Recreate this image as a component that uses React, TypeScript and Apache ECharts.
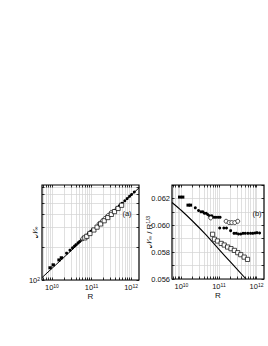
import React, { useEffect, useRef } from "react";
import * as echarts from "echarts";

// ---- data (R values, N/R^(1/3) for panel b, N for panel a) ----
const sqR = [9.02e9, 1.081e10, 1.514e10, 1.738e10];
const sqB = [0.0621, 0.0621, 0.0615, 0.0615];
const sqA = [129.2, 137.4, 152.2, 159.3];

const dotR = [
  2.344e10, 2.858e10, 3.311e10, 3.715e10, 4.074e10, 4.571e10, 5.012e10, 5.623e10,
  6.457e10, 7.413e10, 8.318e10, 9.55e10, 1.072e11,
  1.047e11, 1.349e11, 1.585e11, 2.042e11, 2.512e11, 2.884e11, 3.311e11, 3.802e11,
  4.365e11, 5.012e11, 5.888e11, 6.918e11, 7.943e11, 9.12e11, 1.023e12, 1.202e12,
];
const dotB = [
  0.0613, 0.0611, 0.061, 0.061, 0.0609, 0.0609, 0.0608, 0.0607,
  0.0607, 0.0606, 0.0606, 0.0606, 0.0606,
  0.0598, 0.0598, 0.0598, 0.0596, 0.0594, 0.0594, 0.05935, 0.05935,
  0.0594, 0.0594, 0.0594, 0.0594, 0.0594, 0.05943, 0.05945, 0.05942,
];
const dotA = [
  175.4, 186.8, 195.9, 203.6, 209.6, 217.7, 224.2, 232.5,
  243.5, 254.6, 264.5, 277.0, 287.9,
  281.9, 306.7, 323.6, 350.9, 374.8, 392.5, 410.6, 429.9,
  450.6, 471.8, 497.9, 525.4, 550.1, 576.4, 599.1, 631.9,
];

const ocR = [6.026e10, 1.549e11, 1.862e11, 2.188e11, 2.63e11, 3.162e11];
const ocB = [0.06055, 0.0603, 0.0602, 0.0602, 0.0602, 0.0603];
const ocA = [237.4, 323.8, 343.7, 362.8, 385.8, 410.8];

const osR = [
  6.761e10, 7.586e10, 9.12e10, 1.148e11, 1.38e11, 1.698e11,
  2.089e11, 2.57e11, 3.162e11, 3.802e11, 4.677e11, 5.754e11,
];
const osB = [
  0.05933, 0.05896, 0.05883, 0.05865, 0.05853, 0.05838,
  0.05826, 0.05813, 0.05796, 0.05781, 0.05763, 0.05746,
];
const osA = [241.7, 249.6, 264.7, 285.1, 302.5, 323.3, 345.7, 369.6, 394.9, 418.8, 447.3, 478.0];

// theory curve of panel (b)
const curveR = [5.62e9, 1e10, 2e10, 4.47e10, 1e11, 2.29e11, 5.25e11];
const curveB = [0.0617, 0.0611, 0.0603, 0.0593, 0.0582, 0.0571, 0.056];

// straight line of panel (a)
const lineR = [5.6e9, 1.6e12];
const lineA = [105, 691];

// ---- axes / ticks ----
const xMajorExp = [10, 11, 12];
const xMinorMult = [2, 3, 4, 5, 6, 7, 8, 9];
const xMinR = 5.62e9;
const xMaxR = 1.58e12;
const yAMin = 100;
const yAMax = 731;
const yATickVals = [100, 200, 300, 400, 500, 600, 700];
const yALabelExp = [2];
const yBMin = 0.056;
const yBMax = 0.063;
const yBStep = 0.001;
const yBLabels = [0.056, 0.058, 0.06, 0.062];

const L = Math.log10;

const xTickVals: number[] = [];
for (let e = 9; e <= 12; e++) {
  const base = Math.pow(10, e);
  [1, ...xMinorMult].forEach((m) => {
    const v = L(m * base);
    if (v >= L(xMinR) - 1e-9 && v <= L(xMaxR) + 1e-9) xTickVals.push(v);
  });
}

const FONT = "Liberation Sans, Arial, Helvetica, sans-serif";
const GA = { left: 42, top: 185, width: 97, height: 95 };
const GB = { left: 172, top: 185, width: 92, height: 94 };

const gridLine = { color: "#d2d2d2", width: 0.7 };
const tickStyle = { color: "#000", width: 0.8 };

const powRich = {
  b: { fontSize: 7.5, lineHeight: 8, fontFamily: FONT, color: "#111" },
  s: { fontSize: 5, lineHeight: 5, verticalAlign: "top", fontFamily: FONT, color: "#111" },
};

function xAxes(gridIndex: number) {
  return [
    {
      gridIndex,
      type: "value",
      min: L(xMinR),
      max: L(xMaxR),
      axisLine: { show: false },
      axisTick: { show: true, inside: true, length: 2.5, customValues: xTickVals, lineStyle: tickStyle },
      axisLabel: {
        customValues: xMajorExp,
        margin: 3,
        formatter: (v: number) => `{b|10}{s|${Math.round(v)}}`,
        rich: powRich,
      },
      splitLine: { show: true, lineStyle: gridLine },
      name: "R",
      nameLocation: "middle",
      nameGap: 12,
      nameMoveOverlap: false,
      nameTextStyle: { fontSize: 8, lineHeight: 8, fontFamily: FONT, color: "#111" },
    },
    {
      gridIndex,
      type: "value",
      position: "top",
      min: L(xMinR),
      max: L(xMaxR),
      axisLine: { show: false },
      axisTick: { show: true, inside: true, length: 2.5, customValues: xTickVals, lineStyle: tickStyle },
      axisLabel: { show: false },
      splitLine: { show: false },
    },
  ];
}

export default function App() {
  const ref = useRef<HTMLDivElement>(null);
  useEffect(() => {
    if (!ref.current) return;
    const chart = echarts.init(ref.current, undefined, { renderer: "svg" });
    const xs = [...xAxes(0), ...xAxes(1)];
    const yAticks = yATickVals.map((v) => L(v));
    const yA = {
      gridIndex: 0,
      type: "value",
      min: L(yAMin),
      max: L(yAMax),
      axisLine: { show: false },
      axisTick: { show: true, inside: true, length: 2.5, customValues: yAticks, lineStyle: tickStyle },
      axisLabel: {
        customValues: yALabelExp,
        margin: 2,
        formatter: (v: number) => `{b|10}{s|${Math.round(v)}}`,
        rich: powRich,
      },
      splitLine: { show: true, lineStyle: gridLine },
      name: "{n|𝒩}{sub|∞}",
      nameLocation: "middle",
      nameRotate: 90,
      nameGap: 3,
      nameMoveOverlap: false,
      nameTextStyle: {
        rich: {
          n: { fontSize: 8, fontFamily: "DejaVu Sans, " + FONT, color: "#111" },
          sub: { fontSize: 5.5, verticalAlign: "bottom", fontFamily: FONT, color: "#111" },
        },
      },
    };
    const yAright = {
      gridIndex: 0,
      type: "value",
      position: "right",
      min: L(yAMin),
      max: L(yAMax),
      axisLine: { show: false },
      axisTick: { show: true, inside: true, length: 2.5, customValues: yAticks, lineStyle: tickStyle },
      axisLabel: { show: false },
      splitLine: { show: false },
    };
    const yB = {
      gridIndex: 1,
      type: "value",
      min: yBMin,
      max: yBMax,
      interval: yBStep,
      axisLine: { show: false },
      axisTick: { show: true, inside: true, length: 2.5, lineStyle: tickStyle },
      axisLabel: {
        customValues: yBLabels,
        margin: 2,
        fontSize: 7.5,
        fontFamily: FONT,
        color: "#111",
        formatter: (v: number) => v.toFixed(3),
      },
      splitLine: { show: true, lineStyle: gridLine },
      name: "{n|𝒩}{sub|∞}{t| / R}{sup|1/3}",
      nameLocation: "middle",
      nameRotate: 90,
      nameGap: 19,
      nameMoveOverlap: false,
      nameTextStyle: {
        rich: {
          n: { fontSize: 8, fontFamily: "DejaVu Sans, " + FONT, color: "#111" },
          sub: { fontSize: 5.5, verticalAlign: "bottom", fontFamily: FONT, color: "#111" },
          t: { fontSize: 8, fontFamily: FONT, color: "#111" },
          sup: { fontSize: 5.5, verticalAlign: "top", fontFamily: FONT, color: "#111" },
        },
      },
    };
    const yBright = {
      gridIndex: 1,
      type: "value",
      position: "right",
      min: yBMin,
      max: yBMax,
      interval: yBStep,
      axisLine: { show: false },
      axisTick: { show: true, inside: true, length: 2.5, lineStyle: tickStyle },
      axisLabel: { show: false },
      splitLine: { show: false },
    };

    const mk = (rs: number[], vs: number[], logY: boolean) =>
      rs.map((r, i) => [L(r), logY ? L(vs[i]) : vs[i]]);

    const sets = [
      { name: "sq", R: sqR, A: sqA, B: sqB, symbol: "rect", size: [3.4, 3], filled: true },
      { name: "dot", R: dotR, A: dotA, B: dotB, symbol: "circle", size: 3, filled: true },
      { name: "oc", R: ocR, A: ocA, B: ocB, symbol: "circle", size: 4, filled: false },
      { name: "os", R: osR, A: osA, B: osB, symbol: "rect", size: 4.2, filled: false },
    ];

    const series: any[] = [];
    series.push({
      type: "line",
      xAxisIndex: 0,
      yAxisIndex: 0,
      data: mk(lineR, lineA, true),
      showSymbol: false,
      lineStyle: { color: "#000", width: 1 },
      z: 3,
    });
    series.push({
      type: "line",
      xAxisIndex: 2,
      yAxisIndex: 2,
      data: mk(curveR, curveB, false),
      showSymbol: false,
      smooth: 0.3,
      lineStyle: { color: "#000", width: 1.1 },
      z: 3,
    });
    sets.forEach((s) => {
      const itemStyle = s.filled
        ? { color: "#000", opacity: 1 }
        : { color: "#fff", borderColor: "#000", borderWidth: 0.7, opacity: 1 };
      series.push({
        type: "scatter",
        name: s.name + "A",
        xAxisIndex: 0,
        yAxisIndex: 0,
        data: mk(s.R, s.A, true),
        symbol: s.symbol,
        symbolSize: s.size,
        itemStyle,
        z: 4,
      });
      series.push({
        type: "scatter",
        name: s.name + "B",
        xAxisIndex: 2,
        yAxisIndex: 2,
        data: mk(s.R, s.B, false),
        symbol: s.symbol,
        symbolSize: s.size,
        itemStyle,
        z: 4,
      });
    });

    const frame = (g: typeof GA) => ({
      type: "rect",
      z: 100,
      shape: { x: g.left, y: g.top, width: g.width, height: g.height },
      style: { fill: "none", stroke: "#000", lineWidth: 1.2 },
    });

    chart.setOption({
      animation: false,
      grid: [
        { ...GA, containLabel: false },
        { ...GB, containLabel: false },
      ],
      xAxis: xs,
      yAxis: [yA, yAright, yB, yBright],
      series,
      graphic: [
        frame(GA),
        frame(GB),
        {
          type: "text",
          z: 100,
          x: 127,
          y: 213,
          style: { text: "(a)", fontSize: 7.5, fontFamily: FONT, fill: "#111", align: "center", verticalAlign: "middle" },
        },
        {
          type: "text",
          z: 100,
          x: 257,
          y: 213,
          style: { text: "(b)", fontSize: 7.5, fontFamily: FONT, fill: "#111", align: "center", verticalAlign: "middle" },
        },
      ],
    });
    return () => chart.dispose();
  }, []);
  return (
    <div
      ref={ref}
      style={{ position: "fixed", left: 0, top: 0, width: 268, height: 346, background: "#fff" }}
    />
  );
}
